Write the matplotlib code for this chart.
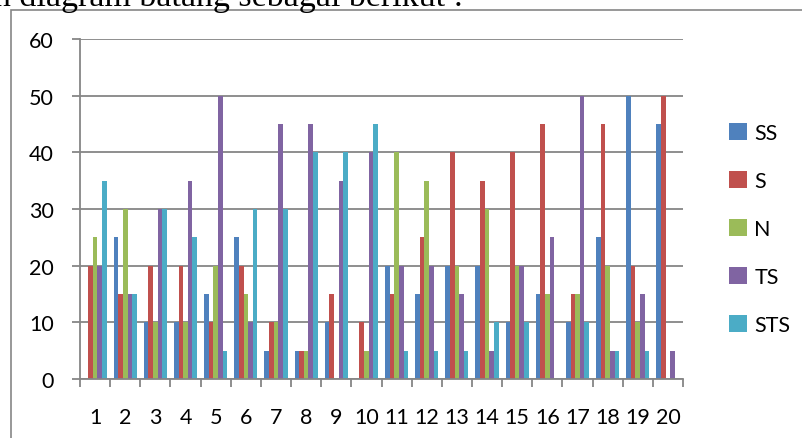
import numpy as np
import matplotlib
matplotlib.use("Agg")
import matplotlib.pyplot as plt
from matplotlib.patches import Rectangle, Patch

categories = [str(i) for i in range(1, 21)]
series_names = ["SS", "S", "N", "TS", "STS"]
ss = [0, 25, 10, 10, 15, 25, 5, 5, 10, 0, 20, 15, 20, 20, 10, 15, 10, 25, 50, 45]
s = [20, 15, 20, 20, 10, 20, 10, 5, 15, 10, 15, 25, 40, 35, 40, 45, 15, 45, 20, 50]
n = [25, 30, 10, 10, 20, 15, 10, 5, 0, 5, 40, 35, 20, 30, 20, 15, 15, 20, 10, 0]
ts = [20, 15, 30, 35, 50, 10, 45, 45, 35, 40, 20, 20, 15, 5, 20, 25, 50, 5, 15, 5]
sts = [35, 15, 30, 25, 5, 30, 30, 40, 40, 45, 5, 5, 5, 10, 10, 0, 10, 5, 5, 0]
y_ticks = [0, 10, 20, 30, 40, 50, 60]

colors = ["#4F81BD", "#C0504D", "#9BBB59", "#8064A2", "#4BACC6"]
grid_col = "#868686"
W, H = 802, 439

plt.rcParams["font.family"] = ["Lato", "DejaVu Sans"]
fig = plt.figure(figsize=(W / 100, H / 100), dpi=100)

# outer chart border (partly cropped in the reference)
fig.patches.append(Rectangle((11 / W, -0.2), 1.2, 1.2 - 11 / H,
                             transform=fig.transFigure, fill=False,
                             edgecolor=grid_col, lw=1.2))
# heading text cut off at the top
fig.text(-6 / W, 1 - 6 / H, "n diagram batang sebagai berikut :",
         family="Liberation Serif", fontsize=24.5, va="baseline", ha="left")

ax = fig.add_axes([80 / W, 1 - 380 / H, (683 - 80) / W, (380 - 40) / H])
x = np.arange(len(categories))
bw = 1 / 6.5
for i, (vals, c) in enumerate(zip([ss, s, n, ts, sts], colors)):
    ax.bar(x + (i - 2) * bw, vals, width=bw, color=c, zorder=3)

ax.set_xlim(-0.5, len(categories) - 0.5)
ax.set_ylim(0, 60)
ax.set_yticks(y_ticks)
ax.set_yticklabels([str(v) for v in y_ticks])
ax.yaxis.grid(True, color=grid_col, lw=1.3, zorder=0)
ax.set_xticks(x)
ax.set_xticklabels(categories)
ax.set_xticks(np.arange(-0.5, len(categories)), minor=True)
ax.tick_params(axis="x", which="major", length=0, pad=20, labelsize=15.5)
ax.tick_params(axis="x", which="minor", length=6, width=1.3, color=grid_col)
ax.tick_params(axis="y", length=6, width=1.3, color=grid_col, pad=13, labelsize=15.5)
for side in ["top", "right"]:
    ax.spines[side].set_visible(False)
for side in ["left", "bottom"]:
    ax.spines[side].set_color(grid_col)
    ax.spines[side].set_linewidth(1.3)
    ax.spines[side].set_zorder(4)

handles = [Patch(facecolor=c, label=nm) for c, nm in zip(colors, series_names)]
fig.legend(handles=handles, loc="center left", bbox_to_anchor=(710 / W, 1 - 230 / H),
           frameon=False, fontsize=15.5, handlelength=0.8, handleheight=0.8,
           handletextpad=0.35, labelspacing=1.3)

fig.savefig("out.png", dpi=100)
